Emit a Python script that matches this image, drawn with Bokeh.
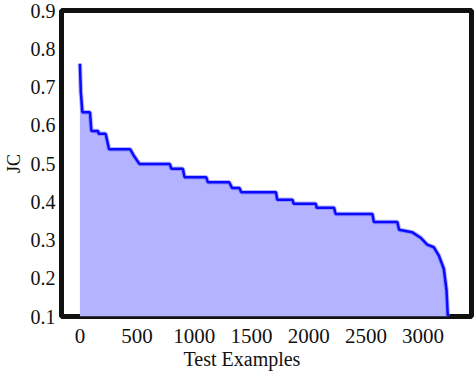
from bokeh.plotting import figure
from bokeh.models import Range1d, FixedTicker, Title
from bokeh.embed import file_html
from bokeh.resources import INLINE

# Data (curve vertices)
examples = [0, 8, 22, 88, 100, 160, 162, 225, 255, 440, 470, 520, 785, 800, 900,
            915, 1105, 1118, 1305, 1330, 1395, 1410, 1714, 1725, 1859, 1868, 2062,
            2070, 2222, 2235, 2557, 2570, 2775, 2790, 2906, 2978, 3036, 3094, 3138,
            3181, 3205, 3216]
jc = [0.761, 0.686, 0.634, 0.634, 0.585, 0.585, 0.578, 0.578, 0.537, 0.537, 0.521,
      0.499, 0.499, 0.486, 0.486, 0.464, 0.464, 0.451, 0.451, 0.436, 0.436, 0.425,
      0.425, 0.405, 0.405, 0.395, 0.395, 0.384, 0.384, 0.368, 0.368, 0.347, 0.347,
      0.327, 0.320, 0.306, 0.288, 0.281, 0.259, 0.225, 0.168, 0.100]
x_ticks = [0, 500, 1000, 1500, 2000, 2500, 3000]
y_ticks = [0.1, 0.2, 0.3, 0.4, 0.5, 0.6, 0.7, 0.8, 0.9]
x_title = "Test Examples"
y_title = "JC"

FONT = "Liberation Serif"

p = figure(width=476, height=378, output_backend="svg", toolbar_location=None,
           x_range=Range1d(-161, 3423), y_range=Range1d(0.1, 0.9),
           min_border_left=60, min_border_right=5, min_border_top=10,
           min_border_bottom=62)
p.background_fill_color = "white"
p.border_fill_color = "white"
p.outline_line_color = "#111111"
p.outline_line_width = 5
p.grid.visible = False

base = [y_ticks[0]] * len(jc)
p.varea(x=examples, y1=base, y2=jc, fill_color="#b3b3ff", fill_alpha=1.0)
p.line(x=examples, y=jc, line_color="#6666ff", line_width=4.5, line_alpha=0.5)
p.line(x=examples, y=jc, line_color="#0a0aff", line_width=2.5)

p.xaxis.ticker = FixedTicker(ticks=x_ticks)
p.yaxis.ticker = FixedTicker(ticks=y_ticks)
for ax in (p.xaxis, p.yaxis):
    ax.axis_line_color = None
    ax.major_tick_line_color = None
    ax.minor_tick_line_color = None
    ax.major_tick_out = 0
    ax.major_tick_in = 0
    ax.major_label_text_font = FONT
    ax.major_label_text_color = "#111111"
p.xaxis.major_label_text_font_size = "21px"
p.yaxis.major_label_text_font_size = "20px"
p.xaxis.major_label_standoff = 12
p.yaxis.major_label_standoff = 6

p.yaxis.axis_label = y_title
p.yaxis.axis_label_text_font = FONT
p.yaxis.axis_label_text_font_size = "18px"
p.yaxis.axis_label_text_font_style = "normal"
p.yaxis.axis_label_text_color = "#111111"
p.yaxis.axis_label_standoff = 4

p.add_layout(Title(text=x_title, align="left", offset=122, standoff=0,
                   text_font=FONT, text_font_size="20px",
                   text_font_style="normal", text_color="#111111"), "below")

open("out.html", "w").write(file_html(p, INLINE))
